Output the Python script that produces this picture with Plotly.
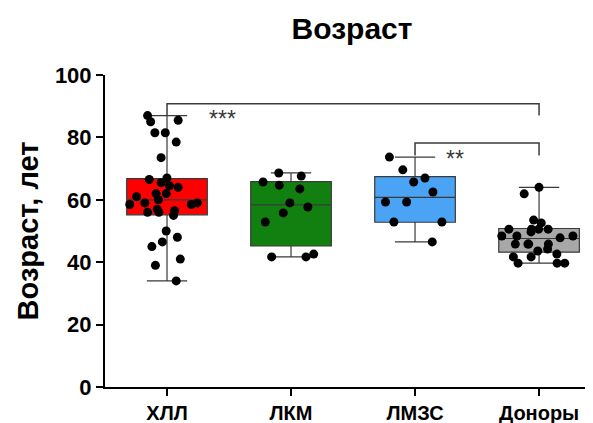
import plotly.graph_objects as go

categories = ["ХЛЛ", "ЛКМ", "ЛМЗС", "Доноры"]
box_colors = ["#ff0000", "#118011", "#4aa3f5", "#a8a8a8"]

# individual values (age, years)
vals_hll = [87, 85, 85.5, 81.5, 81.5, 78.5, 73.5, 67, 66.5, 65.5, 64.5, 64, 62, 62, 61, 60,
            59, 59, 58.5, 58.5, 57, 56.5, 56, 56, 55, 50, 48, 46.5, 45, 41, 39, 34]
vals_lkm = [68.6, 67.6, 65.7, 64.7, 63.5, 59, 57.7, 55.8, 52.9, 42.6, 41.7, 41.7]
vals_lmzs = [73.7, 69.6, 67, 65.7, 62.5, 59.3, 59.3, 52.9, 52.9, 46.5]
vals_don = [64, 61.9, 53.5, 52.6, 50.6, 50.6, 50.6, 50.6, 49.7, 48.4, 48.4, 48.4, 47.8,
            45.8, 45.8, 45.8, 45.8, 44.2, 43.6, 42.6, 41.7, 41.7, 39.7, 39.7, 39.7]
values = [vals_hll, vals_lkm, vals_lmzs, vals_don]

# box statistics
q1 = [55.2, 45.2, 52.8, 43.2]
median = [60.0, 58.4, 60.8, 47.6]
q3 = [66.8, 65.8, 67.4, 50.8]
lower = [34, 41.7, 46.5, 39.7]
upper = [87, 68.6, 73.7, 64]

# significance brackets: (from group, to group, bracket level, leg bottom, label)
comparisons = [(0, 3, 90.8, 87.0, "***"), (2, 3, 78.2, 74.2, "**")]
star_pos = [(0.45, 86.0), (2.32, 73.0)]

FONT = "Liberation Sans, Arial"
OFF = 8  # page body margin offset in the browser

fig = go.Figure()
for i, cat in enumerate(categories):
    fig.add_trace(go.Box(
        x=[cat], q1=[q1[i]], median=[median[i]], q3=[q3[i]],
        lowerfence=[lower[i]], upperfence=[upper[i]],
        fillcolor=box_colors[i], line=dict(color="#3a3a3a", width=1.2),
        width=0.65, whiskerwidth=0.5, boxpoints=False, showlegend=False,
        hoverinfo="skip"))
for i, cat in enumerate(categories):
    fig.add_trace(go.Box(
        x=[cat] * len(values[i]), y=values[i], boxpoints="all", jitter=0.95,
        pointpos=0, fillcolor="rgba(0,0,0,0)", line=dict(color="rgba(0,0,0,0)", width=0),
        marker=dict(color="black", size=9), width=0.65, showlegend=False,
        hoveron="points"))

for (a, b, lvl, leg, lab), (sx, sy) in zip(comparisons, star_pos):
    fig.add_shape(type="path",
                  path=f"M {a},{leg} L {a},{lvl} L {b},{lvl} L {b},{leg}",
                  xref="x", yref="y", line=dict(color="#3a3a3a", width=1.5))
    fig.add_annotation(x=sx, y=sy, xref="x", yref="y", text=lab, showarrow=False,
                       yanchor="middle",
                       font=dict(size=23, color="#3a3a3a", family=FONT))

fig.update_layout(
    width=593, height=423, boxmode="overlay",
    margin=dict(l=105 - OFF, r=OFF, t=75 - OFF, b=36 + OFF),
    paper_bgcolor="white", plot_bgcolor="white",
    font=dict(family=FONT, color="black"),
    title=dict(text="<b>Возраст</b>", x=(352 - OFF) / 593, xanchor="center",
               y=1 - (28 - OFF) / 423, yanchor="middle", yref="container",
               font=dict(size=30, color="black")),
    xaxis=dict(type="category", categoryorder="array", categoryarray=categories,
               range=[-0.5, 3.435], showline=True, linecolor="black", linewidth=2,
               ticks="outside", ticklen=7, tickwidth=2, tickcolor="black",
               tickfont=dict(size=20, color="black"), showgrid=False, zeroline=False,
               automargin=False,
               tickvals=categories, ticktext=[f"<b>{c}</b>" for c in categories]),
    yaxis=dict(range=[0, 100], tickvals=[0, 20, 40, 60, 80, 100],
               ticktext=[f"<b>{v}</b>" for v in [0, 20, 40, 60, 80, 100]],
               showline=True, linecolor="black", linewidth=2,
               ticks="outside", ticklen=7, tickwidth=2, tickcolor="black",
               tickfont=dict(size=22, color="black"), showgrid=False, zeroline=False,
               automargin=False,
               title=dict(text="<b>Возраст, лет</b>", font=dict(size=29, color="black"),
                          standoff=8)),
)

fig.write_html("out.html")
